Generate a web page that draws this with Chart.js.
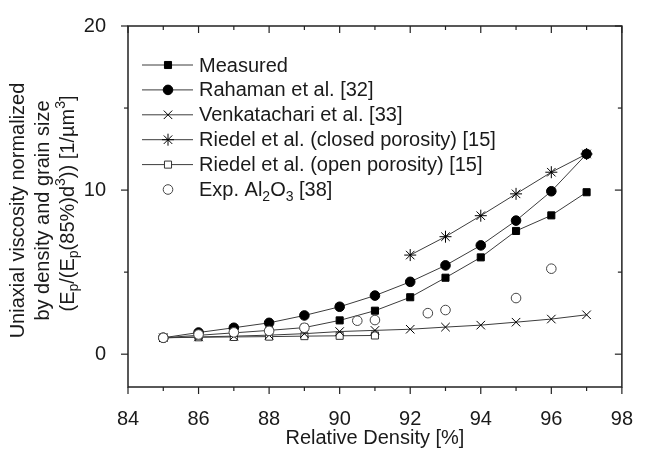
<!DOCTYPE html>
<html>
<head>
<meta charset="utf-8">
<script src="https://cdn.jsdelivr.net/npm/chart.js@4.4.1/dist/chart.umd.min.js"></script>
<style>
  html, body { margin: 0; padding: 0; background: #fff; }
</style>
</head>
<body>
<canvas id="c" width="645" height="452"></canvas>
<script>
// data
const density = [85, 86, 87, 88, 89, 90, 91, 92, 93, 94, 95, 96, 97];
const measured = [1.0, 1.15, 1.3, 1.45, 1.62, 2.06, 2.65, 3.47, 4.66, 5.9, 7.51, 8.46, 9.87];
const rahaman = [1.0, 1.32, 1.61, 1.91, 2.36, 2.89, 3.57, 4.41, 5.41, 6.63, 8.14, 9.93, 12.2];
const venkatachari = [1.0, 1.05, 1.1, 1.16, 1.25, 1.38, 1.45, 1.52, 1.65, 1.77, 1.95, 2.14, 2.4];
const closedDensity = [92, 93, 94, 95, 96, 97];
const riedelClosed = [6.04, 7.16, 8.44, 9.77, 11.09, 12.2];
const openDensity = [85, 86, 87, 88, 89, 90, 91];
const riedelOpen = [1.0, 1.03, 1.05, 1.07, 1.1, 1.12, 1.14];
const expDensity = [85, 86, 87, 88, 89, 90.5, 91, 92.5, 93, 95, 96];
const expAl2O3 = [1.0, 1.2, 1.33, 1.42, 1.61, 2.04, 2.08, 2.5, 2.69, 3.42, 5.21];

const xTicks = [84, 86, 88, 90, 92, 94, 96, 98];
const yTicks = [0, 10, 20];
const xLabel = "Relative Density [%]";
const yLabel = [
  "Uniaxial viscosity normalized",
  "by density and grain size",
  "(E_{p}/(E_{p}(85%)d^{3})) [1/µm^{3}]",
];

const FONT = '"Liberation Sans", Arial, sans-serif';
const FS = 20;
const INK = "#1a1a1a";
const LINE = "#3c3c3c";

const pts = (xs, ys) => xs.map((x, i) => ({ x, y: ys[i] }));

function parseRich(s) {
  const out = [];
  const re = /([_^])\{([^}]*)\}/g;
  let last = 0, m;
  while ((m = re.exec(s))) {
    if (m.index > last) out.push({ t: s.slice(last, m.index), k: 0 });
    out.push({ t: m[2], k: m[1] === "_" ? 1 : -1 });
    last = re.lastIndex;
  }
  if (last < s.length) out.push({ t: s.slice(last), k: 0 });
  return out;
}

function drawRich(ctx, s, x, y, size, align) {
  const parts = parseRich(s);
  const small = Math.round(size * 0.68);
  let w = 0;
  parts.forEach((p) => {
    ctx.font = (p.k ? small : size) + "px " + FONT;
    p.w = ctx.measureText(p.t).width;
    w += p.w;
  });
  let cx = align === "center" ? x - w / 2 : x;
  ctx.textAlign = "left";
  ctx.textBaseline = "middle";
  parts.forEach((p) => {
    ctx.font = (p.k ? small : size) + "px " + FONT;
    const dy = p.k === 1 ? size * 0.32 : p.k === -1 ? -size * 0.32 : 0;
    ctx.fillText(p.t, cx, y + dy);
    cx += p.w;
  });
}

const base = {
  borderColor: LINE,
  borderWidth: 1,
  showLine: true,
  pointBorderColor: "#000",
  pointBorderWidth: 1,
};

const datasets = [
  { ...base, label: "Measured", data: pts(density, measured),
    pointStyle: "rect", pointRadius: 5, pointBackgroundColor: "#000" },
  { ...base, label: "Rahaman et al. [32]", data: pts(density, rahaman),
    pointStyle: "circle", pointRadius: 4.8, pointBackgroundColor: "#000" },
  { ...base, label: "Venkatachari et al. [33]", data: pts(density, venkatachari),
    pointStyle: "crossRot", pointRadius: 6, pointBackgroundColor: "#000" },
  { ...base, label: "Riedel et al. (closed porosity) [15]", data: pts(closedDensity, riedelClosed),
    pointStyle: "star", pointRadius: 6, pointBackgroundColor: "#000" },
  { ...base, label: "Riedel et al. (open porosity) [15]", data: pts(openDensity, riedelOpen),
    pointStyle: "rect", pointRadius: 5, pointBackgroundColor: "#fff", pointBorderColor: "#333" },
  { ...base, label: "Exp. Al_{2}O_{3} [38]", data: pts(expDensity, expAl2O3), showLine: false,
    pointStyle: "circle", pointRadius: 4.8, pointBackgroundColor: "#fff", pointBorderColor: "#444",
    order: -1 },
];

const framePlugin = {
  id: "frame",
  afterDatasetsDraw(chart) {
    const { ctx, chartArea: a, scales } = chart;
    const x = scales.x, y = scales.y;
    ctx.save();
    ctx.strokeStyle = "#222";
    ctx.lineWidth = 1.5;
    ctx.strokeRect(a.left, a.top, a.right - a.left, a.bottom - a.top);
    ctx.lineWidth = 1.2;
    const seg = (x1, y1, x2, y2) => {
      ctx.beginPath(); ctx.moveTo(x1, y1); ctx.lineTo(x2, y2); ctx.stroke();
    };
    const xStep = xTicks[1] - xTicks[0];
    for (let v = xTicks[0]; v <= xTicks[xTicks.length - 1]; v += xStep / 2) {
      const px = x.getPixelForValue(v);
      const len = xTicks.includes(v) ? 7 : 4;
      seg(px, a.bottom, px, a.bottom + len);
      seg(px, a.top, px, a.top + len);
    }
    const yStep = yTicks[1] - yTicks[0];
    for (let v = yTicks[0]; v <= yTicks[yTicks.length - 1]; v += yStep / 2) {
      const py = y.getPixelForValue(v);
      const len = yTicks.includes(v) ? 7 : 4;
      seg(a.left, py, a.left - len, py);
      seg(a.right, py, a.right - len, py);
    }
    ctx.restore();
  },
  afterDraw(chart) {
    const { ctx, chartArea: a } = chart;
    ctx.save();
    ctx.fillStyle = INK;
    // y axis title, three rotated lines
    const cy = (a.top + a.bottom) / 2 + 4;
    [[18, 0], [43, 0], [68, -7]].forEach(([lx, dy], i) => {
      ctx.save();
      ctx.translate(lx, cy + dy);
      ctx.rotate(-Math.PI / 2);
      drawRich(ctx, yLabel[i], 0, 0, FS, "center");
      ctx.restore();
    });
    // legend inside the plot
    chart.data.datasets.forEach((ds, i) => {
      const ry = 65 + i * 24.9;
      if (ds.showLine) {
        ctx.strokeStyle = ds.borderColor;
        ctx.lineWidth = 1;
        ctx.beginPath(); ctx.moveTo(142, ry); ctx.lineTo(193, ry); ctx.stroke();
      }
      ctx.fillStyle = ds.pointBackgroundColor;
      ctx.strokeStyle = ds.pointBorderColor;
      ctx.lineWidth = 1;
      Chart.helpers.drawPoint(ctx, { pointStyle: ds.pointStyle, radius: ds.pointRadius, rotation: 0, borderWidth: 1 }, 168, ry);
      ctx.fillStyle = INK;
      drawRich(ctx, ds.label, 199, ry + 1, FS, "left");
    });
    ctx.restore();
  },
};

new Chart(document.getElementById("c").getContext("2d"), {
  type: "scatter",
  data: { datasets },
  options: {
    responsive: false,
    animation: false,
    layout: { padding: { top: 15, right: 13, left: 0, bottom: 0 } },
    plugins: { legend: { display: false }, tooltip: { enabled: false } },
    scales: {
      x: {
        type: "linear",
        min: 84,
        max: 98,
        afterBuildTicks: (s) => { s.ticks = xTicks.map((v) => ({ value: v })); },
        afterFit: (s) => { s.height = 65; },
        grid: { display: false },
        border: { display: false },
        ticks: { color: INK, font: { family: FONT, size: FS }, padding: 12, maxRotation: 0 },
        title: { display: true, text: xLabel, color: INK, font: { family: FONT, size: FS },
          padding: { top: 0, bottom: 2 } },
      },
      y: {
        type: "linear",
        min: -2,
        max: 20,
        afterBuildTicks: (s) => { s.ticks = yTicks.map((v) => ({ value: v })); },
        afterFit: (s) => { s.width = 128; },
        grid: { display: false },
        border: { display: false },
        ticks: { color: INK, font: { family: FONT, size: FS }, padding: 14 },
      },
    },
  },
  plugins: [framePlugin],
});
</script>
</body>
</html>
